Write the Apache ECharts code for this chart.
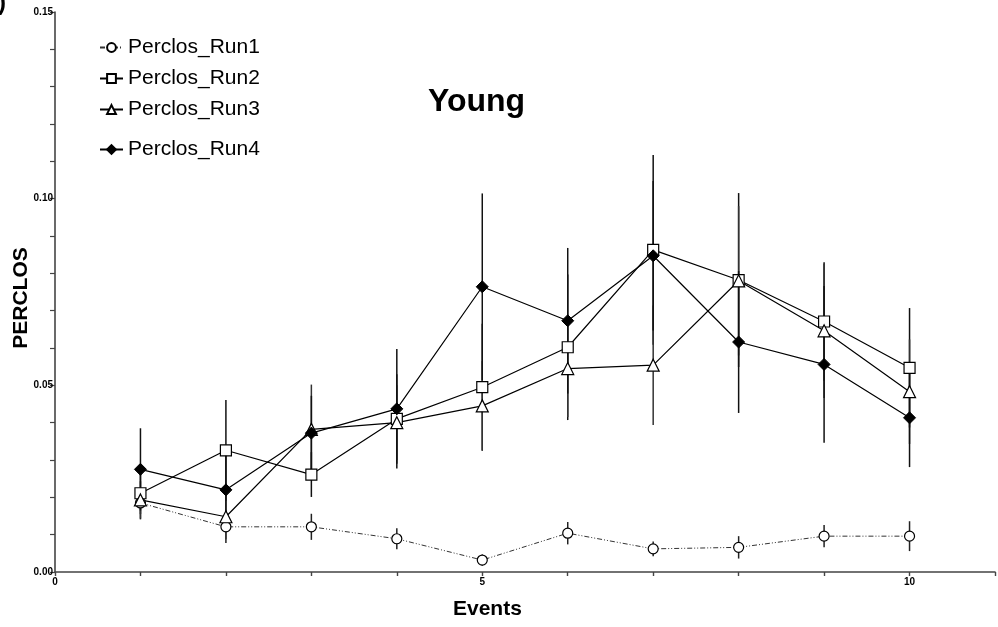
<!DOCTYPE html>
<html lang="en">
<head>
    <meta charset="utf-8">
    <title>Young - PERCLOS</title>
    <script src="https://cdn.jsdelivr.net/npm/echarts@6.0.0/dist/echarts.min.js"></script>
    <style>
        html, body { margin: 0; padding: 0; background: #fff; }
        #chart { width: 998px; height: 627px; }
    </style>
</head>
<body>
    <div id="chart"></div>
    <script>
        // Data
        const events = [1, 2, 3, 4, 5, 6, 7, 8, 9, 10];
        const run1 = [0.0185, 0.0121, 0.0121, 0.0089, 0.0032, 0.0104, 0.0062, 0.0066, 0.0096, 0.0096];
        const run2 = [0.0211, 0.0326, 0.0261, 0.0410, 0.0495, 0.0602, 0.0863, 0.0782, 0.0671, 0.0547];
        const run3 = [0.0193, 0.0148, 0.0382, 0.0400, 0.0445, 0.0545, 0.0554, 0.0780, 0.0646, 0.0483];
        const run4 = [0.0275, 0.0220, 0.0372, 0.0437, 0.0764, 0.0673, 0.0847, 0.0616, 0.0556, 0.0413];
        // error (half length of bar)
        const err1 = [0.003, 0.0043, 0.0035, 0.0028, 0.0015, 0.003, 0.002, 0.003, 0.003, 0.004];
        const err2 = [0.007, 0.0135, 0.006, 0.012, 0.017, 0.0195, 0.0254, 0.0233, 0.0159, 0.016];
        const err3 = [0.005, 0.006, 0.012, 0.010, 0.012, 0.013, 0.016, 0.020, 0.018, 0.014];
        const err4 = [0.011, 0.010, 0.010, 0.016, 0.025, 0.0195, 0.020, 0.019, 0.021, 0.0132];
        const names = ['Perclos_Run1', 'Perclos_Run2', 'Perclos_Run3', 'Perclos_Run4'];

        const chart = echarts.init(document.getElementById('chart'));
        const font = 'Liberation Sans, Arial, sans-serif';

        function pairs(vals) {
            return events.map((e, i) => [e, vals[i]]);
        }

        // error bars drawn as vertical segments
        function errorSeries(vals, errs, color) {
            return {
                type: 'custom',
                silent: true,
                z: 1,
                data: events.map((e, i) => [e, vals[i] - errs[i], vals[i] + errs[i]]),
                renderItem: function (params, api) {
                    const lo = api.coord([api.value(0), api.value(1)]);
                    const hi = api.coord([api.value(0), api.value(2)]);
                    return {
                        type: 'line',
                        shape: { x1: lo[0], y1: lo[1], x2: hi[0], y2: hi[1] },
                        style: { stroke: color, lineWidth: 1.5 }
                    };
                }
            };
        }

        const lineBase = {
            type: 'line',
            z: 3,
            animation: false,
            showAllSymbol: true
        };

        const legendText = { fontFamily: font, fontSize: 21, color: '#000' };

        const option = {
            animation: false,
            backgroundColor: '#fff',
            title: [{
                text: 'Young',
                left: 423,
                top: 81,
                textStyle: { fontFamily: font, fontSize: 32, fontWeight: 'bold', color: '#000' }
            }, {
                text: 'Events',
                left: 448,
                top: 594,
                textStyle: { fontFamily: font, fontSize: 21, fontWeight: 'bold', color: '#000' }
            }],
            graphic: [{
                type: 'text',
                left: -2,
                top: -9,
                style: { text: ')', font: 'bold 24px ' + font, fill: '#000' }
            }],
            legend: [{
                data: names.slice(0, 3),
                orient: 'vertical',
                left: 94,
                top: 32,
                itemWidth: 23,
                itemHeight: 11,
                itemGap: 10,
                textStyle: legendText
            }, {
                data: [names[3]],
                orient: 'vertical',
                left: 94,
                top: 134,
                itemWidth: 23,
                itemHeight: 11,
                textStyle: legendText
            }],
            grid: { left: 55, top: 12, width: 950, height: 560 },
            xAxis: {
                type: 'value',
                min: 0,
                max: 11,
                interval: 1,
                splitLine: { show: false },
                axisLine: { onZero: false, lineStyle: { color: '#444', width: 1.6 } },
                axisTick: { length: 4, lineStyle: { color: '#444', width: 1.4 } },
                axisLabel: {
                    margin: 5,
                    fontFamily: font,
                    fontSize: 10,
                    fontWeight: 'bold',
                    color: '#000',
                    formatter: v => (v % 5 === 0 ? String(v) : '')
                }
            },
            yAxis: {
                type: 'value',
                min: 0,
                max: 0.15,
                interval: 0.01,
                name: 'PERCLOS',
                nameLocation: 'middle',
                nameRotate: 90,
                nameGap: 23,
                nameMoveOverlap: false,
                nameTextStyle: {
                    fontFamily: font, fontSize: 21, fontWeight: 'bold', color: '#000',
                    padding: [0, 12, 0, 0]
                },
                splitLine: { show: false },
                axisLine: { show: true, lineStyle: { color: '#444', width: 1.6 } },
                axisTick: { show: true, length: 5, lineStyle: { color: '#444', width: 1.2 } },
                axisLabel: {
                    margin: 2,
                    fontFamily: font,
                    fontSize: 10,
                    fontWeight: 'bold',
                    color: '#000',
                    formatter: v => (Math.round(v * 100) % 5 === 0 ? v.toFixed(2) : '')
                }
            },
            series: [
                errorSeries(run1, err1, '#222'),
                errorSeries(run2, err2, '#111'),
                errorSeries(run3, err3, '#333'),
                errorSeries(run4, err4, '#111'),
                Object.assign({}, lineBase, {
                    name: names[0],
                    data: pairs(run1),
                    symbol: 'circle',
                    symbolSize: 10,
                    itemStyle: { color: '#fff', borderColor: '#000', borderWidth: 1.2 },
                    lineStyle: { color: '#333', width: 1, type: [5, 2, 1, 2, 1, 2] }
                }),
                Object.assign({}, lineBase, {
                    name: names[1],
                    data: pairs(run2),
                    symbol: 'rect',
                    symbolSize: 11,
                    itemStyle: { color: '#fff', borderColor: '#000', borderWidth: 1.2 },
                    lineStyle: { color: '#000', width: 1.2 }
                }),
                Object.assign({}, lineBase, {
                    name: names[2],
                    data: pairs(run3),
                    symbol: 'triangle',
                    symbolSize: 12,
                    itemStyle: { color: '#fff', borderColor: '#000', borderWidth: 1.2 },
                    lineStyle: { color: '#000', width: 1.2 }
                }),
                Object.assign({}, lineBase, {
                    name: names[3],
                    data: pairs(run4),
                    symbol: 'diamond',
                    symbolSize: 12,
                    itemStyle: { color: '#000', borderColor: '#000', borderWidth: 1 },
                    lineStyle: { color: '#000', width: 1.2 }
                })
            ]
        };

        chart.setOption(option);
    </script>
</body>
</html>
